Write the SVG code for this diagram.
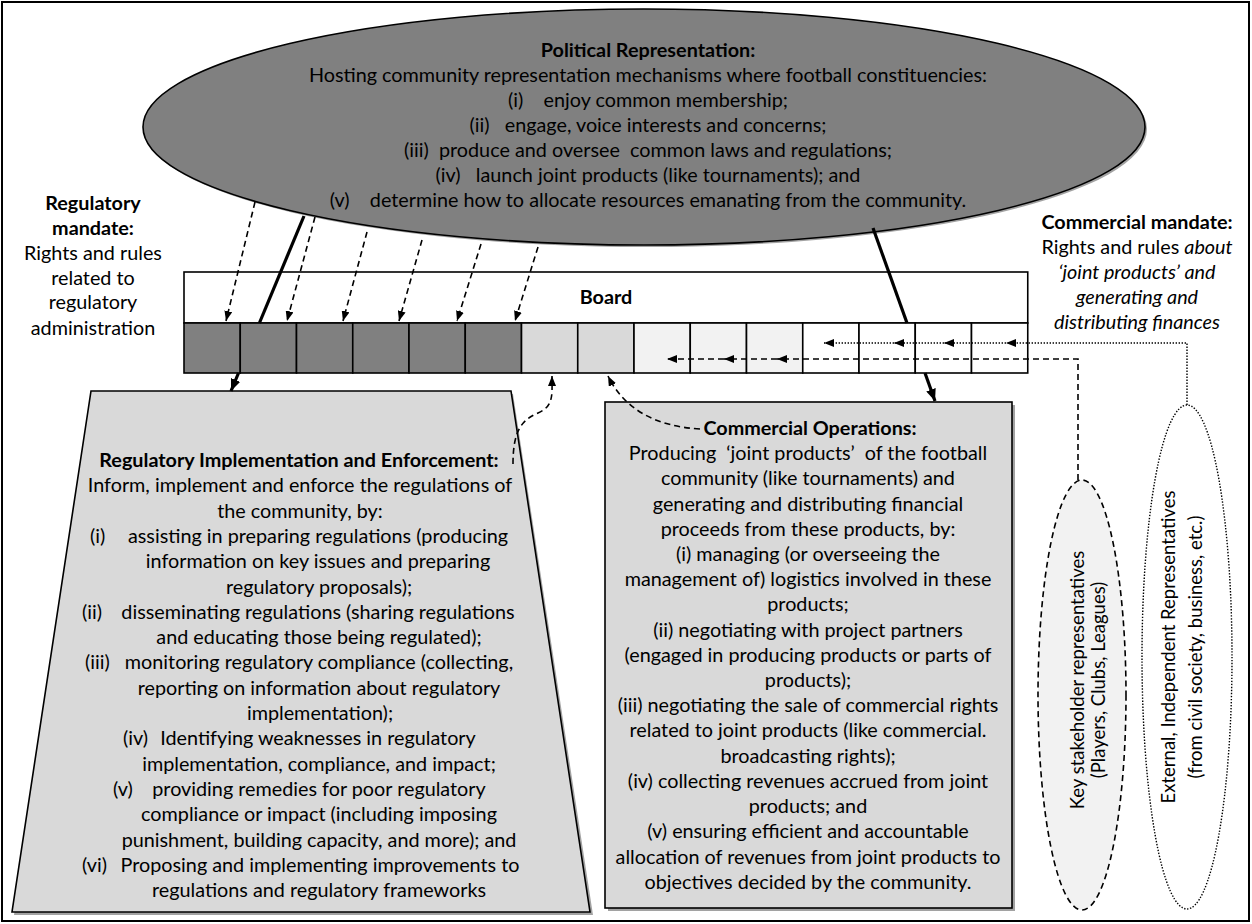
<svg xmlns="http://www.w3.org/2000/svg" width="1252" height="924" viewBox="0 0 1252 924">
<style>
.t{font-family:Lato,"Liberation Sans",sans-serif;font-size:19.8px;fill:#000;text-anchor:middle}
.ts{font-family:Lato,"Liberation Sans",sans-serif;font-size:19.8px;fill:#000}
.b{font-weight:bold}
.i{font-style:italic}
.r{font-family:Lato,"Liberation Sans",sans-serif;font-size:18.5px;fill:#000;text-anchor:middle}
.dash{fill:none;stroke:#000;stroke-width:1.6;stroke-dasharray:6 4}
.dot{fill:none;stroke:#000;stroke-width:1.4;stroke-dasharray:1.4 1.6}
.bold{fill:none;stroke:#000;stroke-width:3.2}
.cell{stroke:#000;stroke-width:1.6}
.sh{fill:#555;opacity:.55}
</style>
<defs>
<marker id="ah" viewBox="0 0 10 8" refX="10" refY="4" markerWidth="10" markerHeight="8" markerUnits="userSpaceOnUse" orient="auto"><path d="M0,0 L10,4 L0,8 z" fill="#000"/></marker>
<marker id="ahb" viewBox="0 0 12 10" refX="12" refY="5" markerWidth="12" markerHeight="10" markerUnits="userSpaceOnUse" orient="auto"><path d="M0,0 L12,5 L0,10 z" fill="#000"/></marker>
</defs>
<rect x="0" y="0" width="1252" height="924" fill="#fff"/>
<rect x="2" y="2" width="1247" height="919" fill="none" stroke="#000" stroke-width="2"/>

<g id="political">
<ellipse cx="646" cy="129" rx="501" ry="118" class="sh"/>
<ellipse cx="644" cy="127" rx="501" ry="118" fill="#808080" stroke="#000" stroke-width="1.6"/>
<text class="t b" x="648" y="57">Political Representation:</text>
<text class="t" x="648" y="82">Hosting community representation mechanisms where football constituencies:</text>
<text class="t" x="648" y="107">(i)&#160;&#160;&#160; enjoy common membership;</text>
<text class="t" x="648" y="132">(ii)&#160;&#160; engage, voice interests and concerns;</text>
<text class="t" x="648" y="157">(iii)&#160; produce and oversee&#160; common laws and regulations;</text>
<text class="t" x="648" y="182">(iv)&#160;&#160; launch joint products (like tournaments); and</text>
<text class="t" x="648" y="207">(v)&#160;&#160;&#160; determine how to allocate resources emanating from the community.</text>
</g>

<g id="regulatory-mandate">
<text class="t b" x="93" y="210">Regulatory</text>
<text class="t b" x="93" y="235">mandate:</text>
<text class="t" x="93" y="260">Rights and rules</text>
<text class="t" x="93" y="285">related to</text>
<text class="t" x="93" y="309">regulatory</text>
<text class="t" x="93" y="335">administration</text>
</g>

<g id="commercial-mandate">
<text class="t b" x="1137" y="229">Commercial mandate:</text>
<text class="t" x="1137" y="254">Rights and rules <tspan class="i">about</tspan></text>
<text class="t i" x="1137" y="279">‘joint products’ and</text>
<text class="t i" x="1137" y="304">generating and</text>
<text class="t i" x="1137" y="329">distributing finances</text>
</g>

<g id="board">
<rect x="184" y="272" width="843.75" height="51" fill="#fff" class="cell"/>
<text class="t b" x="606" y="304">Board</text>
<rect x="184" y="323" width="56.25" height="50" fill="#808080" class="cell"/>
<rect x="240.25" y="323" width="56.25" height="50" fill="#808080" class="cell"/>
<rect x="296.5" y="323" width="56.25" height="50" fill="#808080" class="cell"/>
<rect x="352.75" y="323" width="56.25" height="50" fill="#808080" class="cell"/>
<rect x="409" y="323" width="56.25" height="50" fill="#808080" class="cell"/>
<rect x="465.25" y="323" width="56.25" height="50" fill="#808080" class="cell"/>
<rect x="521.5" y="323" width="56.25" height="50" fill="#d9d9d9" class="cell"/>
<rect x="577.75" y="323" width="56.25" height="50" fill="#d9d9d9" class="cell"/>
<rect x="634" y="323" width="56.25" height="50" fill="#f2f2f2" class="cell"/>
<rect x="690.25" y="323" width="56.25" height="50" fill="#f2f2f2" class="cell"/>
<rect x="746.5" y="323" width="56.25" height="50" fill="#f2f2f2" class="cell"/>
<rect x="802.75" y="323" width="56.25" height="50" fill="#fff" class="cell"/>
<rect x="859" y="323" width="56.25" height="50" fill="#fff" class="cell"/>
<rect x="915.25" y="323" width="56.25" height="50" fill="#fff" class="cell"/>
<rect x="971.5" y="323" width="56.25" height="50" fill="#fff" class="cell"/>
</g>

<g id="regulatory-implementation">
<polygon points="93,394 513,394 593,915 14,915" class="sh"/>
<polygon points="91,391 511,391 590,912 12,912" fill="#d9d9d9" stroke="#000" stroke-width="1.6"/>
<text class="t b" x="299" y="467">Regulatory Implementation and Enforcement:</text>
<text class="t" x="300" y="492">Inform, implement and enforce the regulations of</text>
<text class="t" x="300" y="518">the community, by:</text>
<text class="ts" x="90" y="543">(i)</text><text class="t" x="318" y="543">assisting in preparing regulations (producing</text>
<text class="t" x="318" y="568">information on key issues and preparing</text>
<text class="t" x="319" y="594">regulatory proposals);</text>
<text class="ts" x="82" y="619">(ii)</text><text class="t" x="318" y="619">disseminating regulations (sharing regulations</text>
<text class="t" x="319" y="644">and educating those being regulated);</text>
<text class="ts" x="85" y="669">(iii)</text><text class="t" x="319" y="669">monitoring regulatory compliance (collecting,</text>
<text class="t" x="319" y="695">reporting on information about regulatory</text>
<text class="t" x="320" y="720">implementation);</text>
<text class="ts" x="123" y="745">(iv)</text><text class="t" x="318" y="745">Identifying weaknesses in regulatory</text>
<text class="t" x="319" y="771">implementation, compliance, and impact;</text>
<text class="ts" x="113" y="796">(v)</text><text class="t" x="319" y="796">providing remedies for poor regulatory</text>
<text class="t" x="319" y="821">compliance or impact (including imposing</text>
<text class="t" x="319" y="847">punishment, building capacity, and more); and</text>
<text class="ts" x="82" y="872">(vi)</text><text class="t" x="320" y="872">Proposing and implementing improvements to</text>
<text class="t" x="319" y="897">regulations and regulatory frameworks</text>
</g>

<g id="commercial-operations">
<rect x="608" y="405" width="407" height="506" class="sh"/>
<rect x="605" y="402" width="407" height="506" fill="#d9d9d9" stroke="#000" stroke-width="1.6"/>
<text class="t b" x="810" y="435">Commercial Operations:</text>
<text class="t" x="808" y="460">Producing&#160; ‘joint products’&#160; of the football</text>
<text class="t" x="808" y="485">community (like tournaments) and</text>
<text class="t" x="808" y="511">generating and distributing financial</text>
<text class="t" x="808" y="536">proceeds from these products, by:</text>
<text class="t" x="808" y="561">(i) managing (or overseeing the</text>
<text class="t" x="808" y="586">management of) logistics involved in these</text>
<text class="t" x="808" y="611">products;</text>
<text class="t" x="808" y="637">(ii) negotiating with project partners</text>
<text class="t" x="808" y="662">(engaged in producing products or parts of</text>
<text class="t" x="808" y="687">products);</text>
<text class="t" x="808" y="712">(iii) negotiating the sale of commercial rights</text>
<text class="t" x="808" y="737">related to joint products (like commercial.</text>
<text class="t" x="808" y="763">broadcasting rights);</text>
<text class="t" x="808" y="788">(iv) collecting revenues accrued from joint</text>
<text class="t" x="808" y="813">products; and</text>
<text class="t" x="808" y="838">(v) ensuring efficient and accountable</text>
<text class="t" x="808" y="864">allocation of revenues from joint products to</text>
<text class="t" x="808" y="889">objectives decided by the community.</text>
</g>

<g id="key-stakeholders">
<ellipse cx="1082" cy="695" rx="44" ry="215" fill="#f2f2f2" stroke="#000" stroke-width="1.6" stroke-dasharray="6 4"/>
<g transform="translate(1087,680) rotate(-90)">
<text class="r" x="0" y="-3">Key stakeholder representatives</text>
<text class="r" x="0" y="18">(Players, Clubs, Leagues)</text>
</g>
</g>

<g id="external-representatives">
<ellipse cx="1187" cy="657" rx="45" ry="252" fill="#fff" stroke="#000" stroke-width="1.4" stroke-dasharray="1.4 1.6"/>
<g transform="translate(1182,647) rotate(-90)">
<text class="r" x="0" y="-7">External, Independent Representatives</text>
<text class="r" x="0" y="20">(from civil society, business, etc.)</text>
</g>
</g>

<g id="connectors">
<path class="bold" d="M304,216 L259.4,323"/>
<path class="bold" d="M238.5,373 L231,391" marker-end="url(#ahb)"/>
<path class="bold" d="M873,228 L907,323"/>
<path class="bold" d="M925,373 L935,401" marker-end="url(#ahb)"/>
<path class="dash" d="M255,202 L226,321" marker-end="url(#ah)"/>
<path class="dash" d="M315,217 L287,321" marker-end="url(#ah)"/>
<path class="dash" d="M367,232 L343,321" marker-end="url(#ah)"/>
<path class="dash" d="M422,240 L399,321" marker-end="url(#ah)"/>
<path class="dash" d="M481,244 L457,321" marker-end="url(#ah)"/>
<path class="dash" d="M538,247 L515,321" marker-end="url(#ah)"/>
<path class="dash" d="M513,464 C513,430 522,420 538,413 S552,395 552,376" marker-end="url(#ah)"/>
<path class="dash" d="M700,429 Q632,425 608,376" marker-end="url(#ah)"/>
<path class="dash" d="M1078,480 L1078,359 L777,359" marker-end="url(#ah)"/>
<path class="dash" d="M777,359 L724,359" marker-end="url(#ah)"/>
<path class="dash" d="M724,359 L667,359" marker-end="url(#ah)"/>
<path class="dot" d="M1187,405 L1187,343 L1006,343" marker-end="url(#ah)"/>
<path class="dot" d="M1006,343 L944,343" marker-end="url(#ah)"/>
<path class="dot" d="M944,343 L894,343" marker-end="url(#ah)"/>
<path class="dot" d="M894,343 L824,343" marker-end="url(#ah)"/>
</g>
</svg>
